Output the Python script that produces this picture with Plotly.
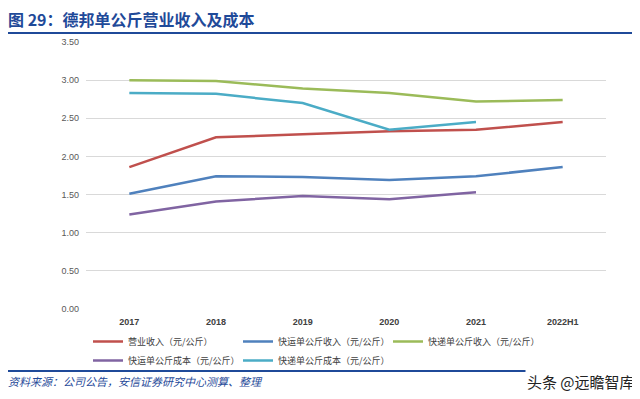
import plotly.graph_objects as go

categories = ["2017", "2018", "2019", "2020", "2021", "2022H1"]
revenue = [1.86, 2.25, 2.29, 2.33, 2.35, 2.45]
ltl_revenue = [1.51, 1.74, 1.73, 1.69, 1.74, 1.86]
exp_revenue = [3.00, 2.99, 2.89, 2.83, 2.72, 2.74]
ltl_cost = [1.24, 1.41, 1.48, 1.44, 1.53, None]
exp_cost = [2.83, 2.82, 2.70, 2.35, 2.45, None]

series = [
    ("营业收入（元/公斤）", revenue, "#C0504D"),
    ("快运单公斤收入（元/公斤）", ltl_revenue, "#4F81BD"),
    ("快递单公斤收入（元/公斤）", exp_revenue, "#9BBB59"),
    ("快运单公斤成本（元/公斤）", ltl_cost, "#8064A2"),
    ("快递单公斤成本（元/公斤）", exp_cost, "#4BACC6"),
]

CJK = "Noto Sans CJK SC"
OFF = 8  # page body margin
W, H = 640 - OFF, 399 - OFF
PW, PH = 520, 267
L, T = 86 - OFF, 42 - OFF


def px(x):  # screen x -> paper
    return (x - OFF - L) / PW


def py(y):  # screen y -> paper
    return (T + PH - (y - OFF)) / PH


fig = go.Figure()
for name, vals, color in series:
    fig.add_trace(go.Scatter(x=categories, y=vals, name=name, mode="lines",
                             line=dict(color=color, width=2.5)))

fig.update_layout(
    width=W, height=H,
    paper_bgcolor="white", plot_bgcolor="white",
    margin=dict(l=L, r=W - L - PW, t=T, b=H - T - PH, autoexpand=False),
    font=dict(family=CJK, size=9, color="#595959"),
    showlegend=True,
    legend=dict(orientation="h", x=px(88), y=py(327), xanchor="left", yanchor="top",
                entrywidth=105, entrywidthmode="pixels",
                font=dict(family=CJK, size=9, color="#404040"),
                itemwidth=30, tracegroupgap=0, bgcolor="rgba(0,0,0,0)"),
    xaxis=dict(type="category", range=[-0.5, 5.5], showgrid=False, zeroline=False,
               showline=False, ticks="", ticklabelstandoff=6,
               tickfont=dict(family="Liberation Sans", size=9, color="#404040", weight="bold")),
    yaxis=dict(range=[0, 3.5], dtick=0.5, tickformat=".2f", showgrid=True,
               gridcolor="#D9D9D9", gridwidth=1, zeroline=False, showline=False,
               ticks="", ticklabelstandoff=6,
               tickfont=dict(family="Liberation Sans", size=9, color="#595959")),
)

fig.add_annotation(text="<b>图 29：德邦单公斤营业收入及成本</b>", xref="paper", yref="paper",
                   x=px(7), y=py(19), xanchor="left", yanchor="middle", borderpad=0,
                   showarrow=False, font=dict(family=CJK, size=16, color="#1F4A99"))
fig.add_shape(type="line", xref="paper", yref="paper", x0=px(8), x1=px(632),
              y0=py(33), y1=py(33), line=dict(color="#1F4A99", width=2))
fig.add_shape(type="line", xref="paper", yref="paper", x0=px(8), x1=px(632),
              y0=py(371), y1=py(371), line=dict(color="#1F4A99", width=2))
fig.add_annotation(text="<i>资料来源：公司公告，安信证券研究中心测算、整理</i>", xref="paper", yref="paper",
                   x=px(6), y=py(381), xanchor="left", yanchor="middle",
                   showarrow=False, font=dict(family=CJK, size=11, color="#1F4A99"))
fig.add_annotation(text="头条 @远瞻智库", xref="paper", yref="paper",
                   x=px(637), y=py(381), xanchor="right", yanchor="middle",
                   showarrow=False, bgcolor="white",
                   font=dict(family=CJK, size=15, color="#222222"))

fig.write_html("out.html")
